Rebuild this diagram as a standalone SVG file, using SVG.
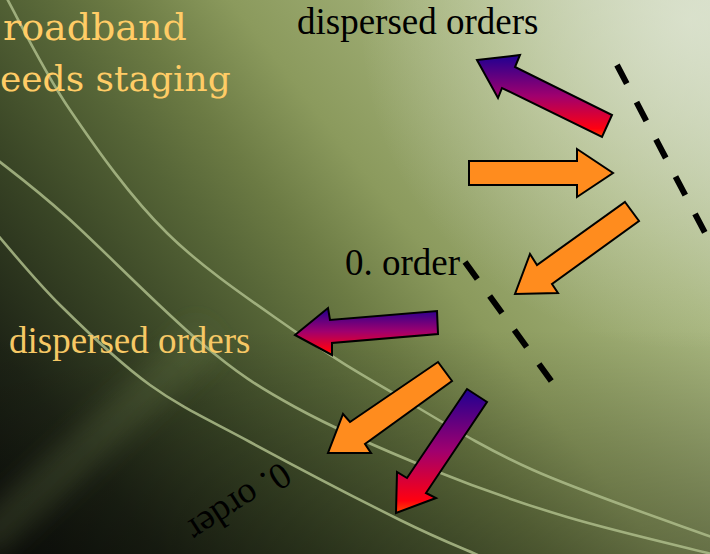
<svg xmlns="http://www.w3.org/2000/svg" width="710" height="554" viewBox="0 0 710 554">
<defs>
  <linearGradient id="bg" gradientUnits="userSpaceOnUse" x1="710" y1="0" x2="0" y2="554">
    <stop offset="0" stop-color="#c9d3b5"/>
    <stop offset="0.22" stop-color="#a8b67f"/>
    <stop offset="0.42" stop-color="#8b9a5d"/>
    <stop offset="0.52" stop-color="#6c7b44"/>
    <stop offset="0.6" stop-color="#566537"/>
    <stop offset="0.72" stop-color="#3a4626"/>
    <stop offset="0.86" stop-color="#1e2416"/>
    <stop offset="1" stop-color="#0e100c"/>
  </linearGradient>
  <radialGradient id="hl" gradientUnits="userSpaceOnUse" cx="690" cy="20" r="330">
    <stop offset="0" stop-color="#e2e8d8" stop-opacity="0.7"/>
    <stop offset="1" stop-color="#e2e8d8" stop-opacity="0"/>
  </radialGradient>
  <linearGradient id="dark" gradientUnits="userSpaceOnUse" x1="0" y1="330" x2="0" y2="554">
    <stop offset="0" stop-color="#000" stop-opacity="0"/>
    <stop offset="1" stop-color="#000" stop-opacity="0.3"/>
  </linearGradient>
  <linearGradient id="pr" x1="0" y1="0" x2="0" y2="1">
    <stop offset="0" stop-color="#1e0092"/>
    <stop offset="0.5" stop-color="#a0006e"/>
    <stop offset="0.9" stop-color="#ff0010"/>
    <stop offset="1" stop-color="#ff4800"/>
  </linearGradient>
  <filter id="blur" x="-50%" y="-50%" width="200%" height="200%"><feGaussianBlur stdDeviation="12"/></filter>
  <style>
    .curve{fill:none;stroke:#adbc8a;stroke-width:2.6;stroke-opacity:0.85}
    .dash{fill:none;stroke:#000;stroke-width:6;stroke-dasharray:21 21}
    .ao{fill:#ff8c1e;stroke:#000;stroke-width:2;stroke-linejoin:miter}
    .ag{fill:url(#pr);stroke:#000;stroke-width:2;stroke-linejoin:miter}
    .gold{font-family:"DejaVu Serif",serif;fill:#ffcc66}
    .gold2{font-family:"Liberation Serif","Times New Roman",serif;font-size:37px;fill:#f6c865}
    .lbl{font-family:"Liberation Serif","Times New Roman",serif;font-size:37px;fill:#000}
  </style>
</defs>

<g id="background">
  <rect x="0" y="0" width="710" height="554" fill="url(#bg)"/>
  <rect x="0" y="0" width="710" height="554" fill="url(#hl)"/>
  <rect x="0" y="0" width="710" height="554" fill="url(#dark)"/>
  <path d="M-20,545 L210,335" stroke="#7d8d55" stroke-width="40" stroke-opacity="0.22" filter="url(#blur)"/>
</g>

<g id="curves">
  <path class="curve" d="M5,-5 C15.8,14.2 43,70.3 70,110 C97,149.7 129.8,196.3 167,233 C204.2,269.7 254.2,302.7 293,330 C331.8,357.3 360,373.7 400,397 C440,420.3 479.7,446.2 533,470 C586.3,493.8 688.8,528.3 720,540"/>
  <path class="curve" d="M-5,158 C7,167.8 32.8,186.3 67,217 C101.2,247.7 162,310.3 200,342 C238,373.7 256.2,385.7 295,407 C333.8,428.3 387.7,451.7 433,470 C478.3,488.3 519.2,502.7 567,517 C614.8,531.3 694.5,549.5 720,556"/>
  <path class="curve" d="M-5,232 C5.8,244.2 34.2,279.5 60,305 C85.8,330.5 118.3,362.2 150,385 C181.7,407.8 208.3,419.5 250,442 C291.7,464.5 361.7,501 400,520 C438.3,539 466.7,550 480,556"/>
</g>

<g id="title">
  <text class="gold" x="3" y="40" font-size="38">roadband</text>
  <text class="gold" x="0" y="91" font-size="36">eeds staging</text>
</g>

<g id="dashed-lines">
  <path class="dash" d="M617,65 L735,290"/>
  <path class="dash" d="M465,262 L552,382"/>
</g>

<g id="arrows">
  <polygon id="arrow-up-left" class="ag" points="477,60 520,55 515,67 612,115 602,137 502,88 498,98"/>
  <polygon id="arrow-right" class="ao" points="469,161 577,161 577,149 613,173 577,197 577,185 469,185"/>
  <polygon id="arrow-down-left-1" class="ao" points="625,202 639,221 552,284 558,293 515,294 530,254 537,265"/>
  <polygon id="arrow-left" class="ag" points="295,335 328,308 330,320 437,311 438,334 332,343 332,355"/>
  <polygon id="arrow-down-left-2" class="ao" points="438,362 452,381 365,444 371,453 328,453 343,414 350,422"/>
  <polygon id="arrow-down-left-3" class="ag" points="467,389 487,402 426,493 436,498 396,513 397,472 407,478"/>
</g>

<g id="labels">
  <text class="lbl" x="297" y="34">dispersed orders</text>
  <text class="lbl" x="345" y="275">0. order</text>
  <text class="gold2" x="9" y="353">dispersed orders</text>
  <text class="lbl" font-size="34" transform="translate(281,461) rotate(147)">0. order</text>
</g>
</svg>
